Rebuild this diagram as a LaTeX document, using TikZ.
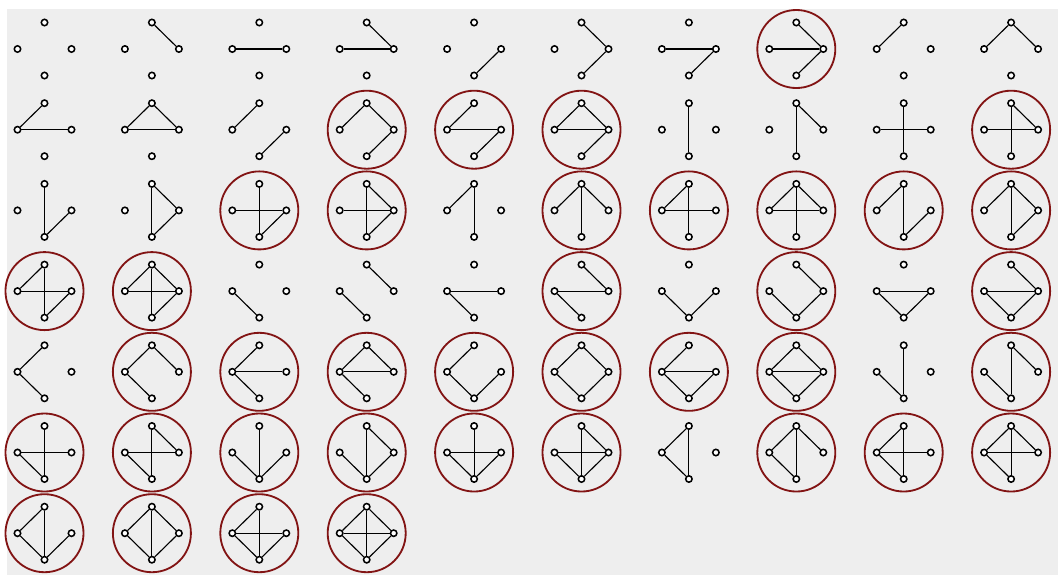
\documentclass[tikz,border=0pt]{standalone}
\usepackage{tikz}
\usetikzlibrary{positioning}
\definecolor{panel}{RGB}{238,238,238}
\definecolor{ringred}{RGB}{130,20,20}

\begin{document}
\begin{tikzpicture}[
  x=0.025cm, y=-0.025cm,
  vertex/.style={draw, circle, line width=1.1pt, fill=white, inner sep=0pt, minimum size=0.16cm},
  edge/.style={line width=0.8pt},
  ring/.style={draw=ringred, circle, line width=1.3pt, minimum size=1.95cm, inner sep=0pt}
]
  % Background
  \fill[white] (0,0) rectangle (1058,575);
  \fill[panel] (7,9) rectangle (1058,575);
  \useasboundingbox (0,0) rectangle (1058,575);

  % All 64 graphs on four vertices, edges by bits of n
  \foreach \n in {0,...,63} {
    \pgfmathtruncatemacro{\row}{div(\n,10)}
    \pgfmathtruncatemacro{\col}{mod(\n,10)}
    \pgfmathsetmacro{\cx}{44.5+107.4*\col}
    \pgfmathsetmacro{\cy}{49+80.7*\row}
    \coordinate (m\n) at (\cx,\cy);
    \node[vertex] (t\n) at (\cx,\cy-26.5) {};
    \node[vertex] (l\n) at (\cx-27,\cy) {};
    \node[vertex] (r\n) at (\cx+27,\cy) {};
    \node[vertex] (b\n) at (\cx,\cy+26.5) {};
    \foreach \k/\a/\b in {0/t/r, 1/l/r, 2/r/b, 3/t/l, 4/t/b, 5/l/b} {
      \pgfmathtruncatemacro{\on}{mod(div(\n,pow(2,\k)),2)}
      \ifnum\on=1
        \draw[edge] (\a\n) -- (\b\n);
      \fi
    }
  }

  % Connected ones get a ring
  \foreach \n in {7,13,14,15,19,22,23,25,26,27,28,29,30,31,35,37,39,
                  41,42,43,44,45,46,47,49,50,51,52,53,54,55,57,58,59,60,61,62,63} {
    \node[ring] (ring\n) at (m\n) {};
  }
\end{tikzpicture}
\end{document}
